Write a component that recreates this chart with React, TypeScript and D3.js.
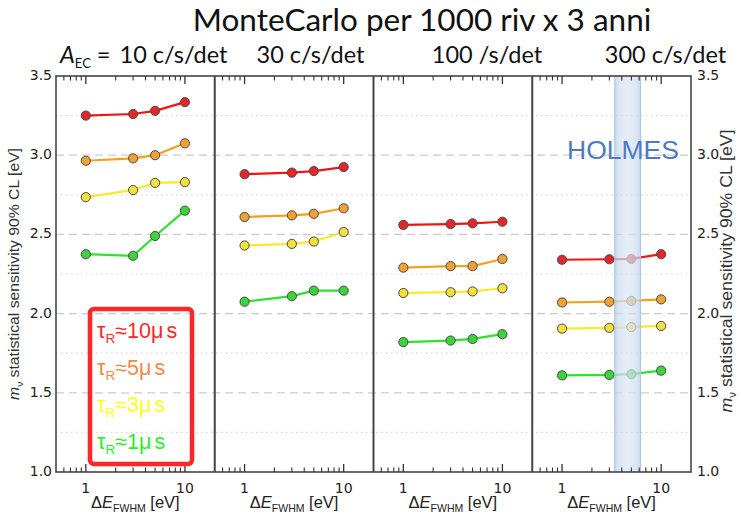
import React from "react";
import * as d3 from "d3";

// Activity per detector for each panel
const rates = ["10 c/s/det", "30 c/s/det", "100 /s/det", "300 c/s/det"];
// Energy resolution values (eV) sampled in every panel
const fwhmValues = [1, 3, 5, 10];
// Sensitivity (eV) per panel, one array per rise time
const tau10us = [
  [3.25, 3.26, 3.28, 3.335],
  [2.88, 2.89, 2.9, 2.925],
  [2.56, 2.565, 2.57, 2.58],
  [2.34, 2.343, 2.345, 2.375],
];
const tau5us = [
  [2.965, 2.98, 3.0, 3.075],
  [2.61, 2.62, 2.63, 2.665],
  [2.29, 2.3, 2.3, 2.345],
  [2.07, 2.075, 2.08, 2.09],
];
const tau3us = [
  [2.735, 2.78, 2.825, 2.83],
  [2.43, 2.44, 2.455, 2.515],
  [2.13, 2.135, 2.14, 2.16],
  [1.905, 1.91, 1.915, 1.922],
];
const tau1us = [
  [2.375, 2.365, 2.49, 2.65],
  [2.075, 2.11, 2.145, 2.145],
  [1.82, 1.83, 1.84, 1.87],
  [1.61, 1.613, 1.618, 1.64],
];
const tauLabels = ["10", "5", "3", "1"];
const yTicks = [1.0, 1.5, 2.0, 2.5, 3.0, 3.5];
const yMinorGrid = [1.25, 1.75, 2.25, 2.75, 3.25];
const xMajorTicks = [1, 10];
const xMinorTicks = [0.6, 0.7, 0.8, 0.9, 2, 3, 4, 5, 6, 7, 8, 9];
const holmesRange = [3.4, 6.2];

const series = [tau10us, tau5us, tau3us, tau1us];
const lineColors = ["#f01414", "#f2a11e", "#fbe827", "#2fe02f"];
const dotColors = ["#e3262a", "#efa131", "#f2e03c", "#3cd43c"];
const legendColors = ["#ff2626", "#ef8a4a", "#ffff1a", "#2aee2a"];

const W = 741;
const H = 515;
const left = 56;
const right = 691;
const top = 76;
const bottom = 472;
const panelW = (right - left) / 4;

const y = d3.scaleLinear().domain([1.0, 3.5]).range([bottom, top]);
const panelX = (i: number) =>
  d3.scaleLog().domain([0.5, 20]).range([left + i * panelW, left + (i + 1) * panelW]);

const sans = "'Liberation Sans', Arial, sans-serif";
const dejavu = "'DejaVu Sans', sans-serif";
const titleFont = "Lato, 'Open Sans', sans-serif";

function AxisTitle({ x, yc, len, size }: { x: number; yc: number; len: number; size: number }) {
  return (
    <text
      transform={`translate(${x},${yc}) rotate(-90)`}
      textAnchor="middle"
      dominantBaseline="middle"
      fontFamily={sans}
      fontSize={size}
      fill="#333"
      textLength={len}
      lengthAdjust="spacingAndGlyphs"
    >
      <tspan fontStyle="italic">m</tspan>
      <tspan fontSize={size * 0.65} dy={size * 0.3}>ν</tspan>
      <tspan dy={-size * 0.3}> statistical sensitivity 90% CL [eV]</tspan>
    </text>
  );
}

export default function App() {
  const line = (sx: d3.ScaleLogarithmic<number, number>) =>
    d3
      .line<number>()
      .x((_, i) => sx(fwhmValues[i]))
      .y((v) => y(v));

  const sx4 = panelX(3);
  const bandX0 = sx4(holmesRange[0]);
  const bandX1 = sx4(holmesRange[1]);

  return (
    <svg
      width={W}
      height={H}
      style={{ position: "absolute", left: 0, top: 0, background: "#fff" }}
    >
      <defs>
        <linearGradient id="band" x1="0" x2="1" y1="0" y2="0">
          <stop offset="0" stopColor="#b4cbe6" />
          <stop offset="0.18" stopColor="#cfdef1" />
          <stop offset="0.5" stopColor="#dbe6f4" />
          <stop offset="0.82" stopColor="#cfdef1" />
          <stop offset="1" stopColor="#b4cbe6" />
        </linearGradient>
      </defs>

      {/* Title and panel headers */}
      <text x={422} y={31} textAnchor="middle" fontFamily={titleFont} fontSize={31.5} fill="#111">
        MonteCarlo per 1000 riv x 3 anni
      </text>
      <text x={60} y={63} fontFamily={titleFont} fontSize={23.5} fill="#111">
        <tspan fontStyle="italic">A</tspan>
        <tspan fontSize={13} dy={5}>EC</tspan>
        <tspan dy={-5}> =</tspan>
      </text>
      {rates.map((r, i) => {
        const centers = [173.5, 310.5, 487, 665.5];
        return (
          <text key={r} x={centers[i]} y={63} textAnchor="middle" fontFamily={titleFont} fontSize={23.5} fill="#111">
            {r}
          </text>
        );
      })}

      {/* Grid */}
      {yTicks.slice(1, -1).map((v) => (
        <line key={"g" + v} x1={left} x2={right} y1={y(v)} y2={y(v)} stroke="#cbcbcb" strokeWidth={1.2} strokeDasharray="8,5" />
      ))}
      {yMinorGrid.map((v) => (
        <line key={"m" + v} x1={left} x2={right} y1={y(v)} y2={y(v)} stroke="#d6d6d6" strokeWidth={1.2} strokeDasharray="1.5,3.5" />
      ))}

      {/* Series */}
      {rates.map((_, p) => {
        const sx = panelX(p);
        const gen = line(sx);
        return (
          <g key={"p" + p}>
            {series.map((s, k) => (
              <path key={"l" + k} d={gen(s[p]) || ""} fill="none" stroke={lineColors[k]} strokeWidth={2.2} />
            ))}
            {series.map((s, k) =>
              s[p].map((v, j) => (
                <circle key={`c${k}-${j}`} cx={sx(fwhmValues[j])} cy={y(v)} r={4.6} fill={dotColors[k]} stroke="#4a4a4a" strokeWidth={1} />
              ))
            )}
          </g>
        );
      })}

      {/* HOLMES resolution band */}
      <rect x={bandX0} y={top} width={bandX1 - bandX0} height={bottom - top} fill="url(#band)" opacity={0.72} />
      <line x1={bandX0} x2={bandX0} y1={top} y2={bottom} stroke="#a9c2e2" strokeWidth={1} />
      <line x1={bandX1} x2={bandX1} y1={top} y2={bottom} stroke="#a9c2e2" strokeWidth={1} />
      <text x={623} y={159} textAnchor="middle" fontFamily={sans} fontSize={26.5} fill="#4d7bc3">
        HOLMES
      </text>

      {/* Frames and ticks */}
      <rect x={left} y={top} width={right - left} height={bottom - top} fill="none" stroke="#454545" strokeWidth={1.6} />
      {rates.map((_, p) => {
        const sx = panelX(p);
        return (
          <g key={"t" + p}>
            {p > 0 && (
              <line x1={left + p * panelW} x2={left + p * panelW} y1={top} y2={bottom} stroke="#454545" strokeWidth={2} />
            )}
            {xMajorTicks.map((t) => (
              <g key={"M" + t}>
                <line x1={sx(t)} x2={sx(t)} y1={bottom} y2={bottom - 8} stroke="#333" strokeWidth={1.3} />
                <line x1={sx(t)} x2={sx(t)} y1={top} y2={top + 8} stroke="#333" strokeWidth={1.3} />
                <text x={sx(t)} y={493} textAnchor="middle" fontFamily={dejavu} fontSize={14} fill="#222">
                  {t}
                </text>
              </g>
            ))}
            {xMinorTicks.map((t) => (
              <g key={"m" + t}>
                <line x1={sx(t)} x2={sx(t)} y1={bottom} y2={bottom - 4.5} stroke="#333" strokeWidth={1.1} />
                <line x1={sx(t)} x2={sx(t)} y1={top} y2={top + 4.5} stroke="#333" strokeWidth={1.1} />
              </g>
            ))}
            <text x={left + (p + 0.5) * panelW} y={508} textAnchor="middle" fontFamily={sans} fontSize={16.5} fill="#222">
              Δ<tspan fontStyle="italic">E</tspan>
              <tspan fontSize={10.5} dy={3.5}>FWHM</tspan>
              <tspan dy={-3.5}> [eV]</tspan>
            </text>
          </g>
        );
      })}

      {/* Y tick labels, both sides */}
      {yTicks.map((v) => (
        <g key={"y" + v}>
          <text x={52} y={y(v)} textAnchor="end" dominantBaseline="middle" fontFamily={dejavu} fontSize={14} fill="#222">
            {d3.format(".1f")(v)}
          </text>
          <text x={697} y={y(v)} textAnchor="start" dominantBaseline="middle" fontFamily={dejavu} fontSize={14} fill="#222">
            {d3.format(".1f")(v)}
          </text>
        </g>
      ))}

      <AxisTitle x={15} yc={274} len={252} size={15} />
      <AxisTitle x={728} yc={271} len={283} size={16} />

      {/* Legend */}
      <rect x={90} y={309} width={102} height={155} rx={4} fill="none" stroke="#ff2626" strokeWidth={4.5} />
      {tauLabels.map((t, k) => (
        <text key={"lg" + t} x={97} y={338 + k * 37} fontFamily={sans} fontSize={21.5} fill={legendColors[k]}>
          τ<tspan fontSize={13.5} dy={5}>R</tspan>
          <tspan dy={-5}>≈{t}μ</tspan>
          <tspan dx={3}>s</tspan>
        </text>
      ))}
    </svg>
  );
}
